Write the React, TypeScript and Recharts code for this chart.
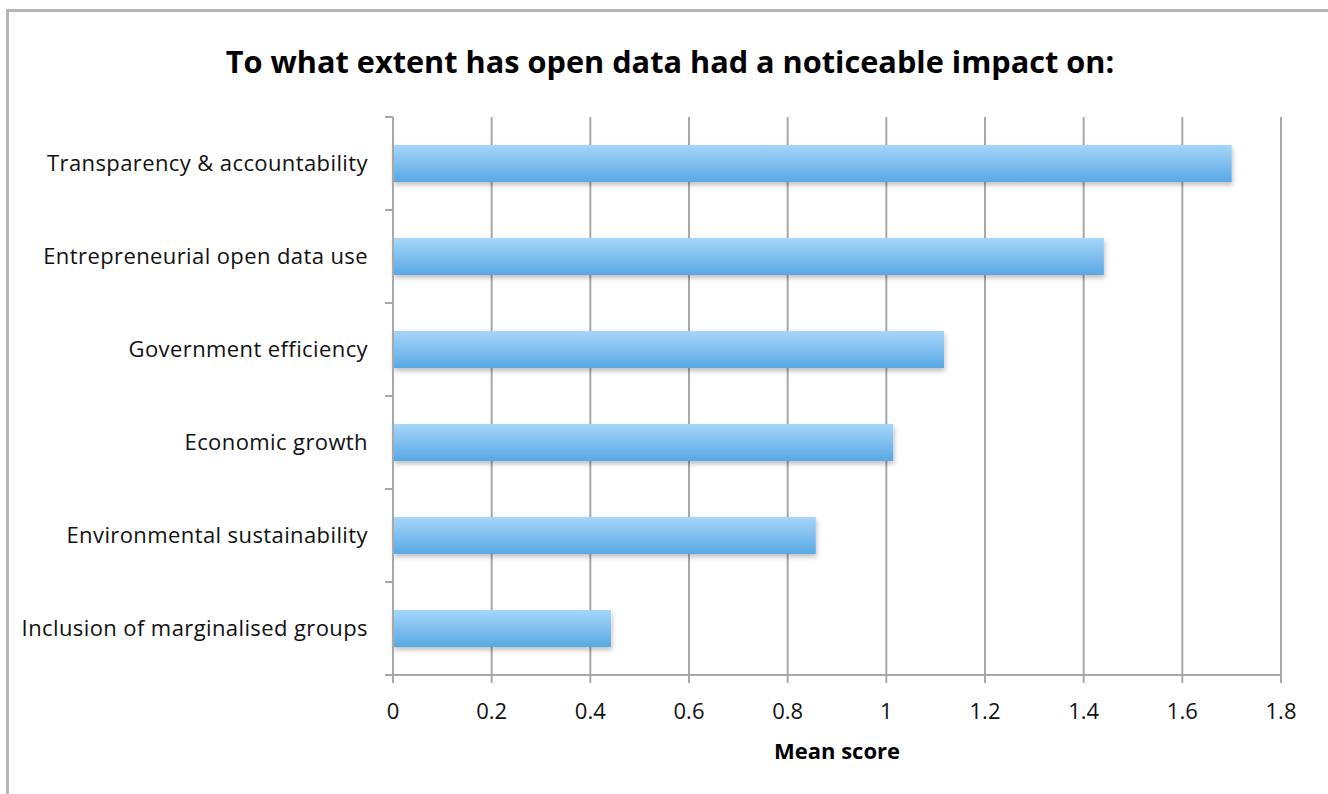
import React from "react";
import { BarChart, Bar, XAxis, YAxis, CartesianGrid } from "recharts";

const CATEGORIES = [
  "Transparency & accountability",
  "Entrepreneurial open data use",
  "Government efficiency ",
  "Economic growth",
  "Environmental sustainability",
  "Inclusion of marginalised groups",
];
const MEAN_SCORES = [1.7, 1.441, 1.117, 1.014, 0.857, 0.442];
const X_TICKS = [0, 0.2, 0.4, 0.6, 0.8, 1, 1.2, 1.4, 1.6, 1.8];

const FONT = "'Open Sans', Lato, sans-serif";
const GRID = "#a8a8a8";
const TICK_MARGIN = 17;
const TICK_SIZE = 8;

// category label + tick marks at the band edges (Excel style)
function CategoryTick(props: any) {
  const { x, y, payload, index, visibleTicksCount } = props;
  const half = payload.offset ?? 0;
  const x1 = x + TICK_MARGIN;
  const x2 = x + TICK_MARGIN + TICK_SIZE;
  return (
    <g>
      <line x1={x1} x2={x2} y1={y - half} y2={y - half} stroke={GRID} strokeWidth={2} />
      {index === visibleTicksCount - 1 && (
        <line x1={x1} x2={x2} y1={y + half} y2={y + half} stroke={GRID} strokeWidth={2} />
      )}
      <text x={x} y={y} dy="0.355em" textAnchor="end" fill="#111" fontSize={22} fontFamily={FONT} letterSpacing={0.4}>
        {payload.value}
      </text>
    </g>
  );
}

export default function App() {
  const data = CATEGORIES.map((name, i) => ({ name, score: MEAN_SCORES[i] }));
  return (
    <div style={{ position: "absolute", left: 0, top: 0, width: 1328, height: 794, background: "#fff", fontFamily: FONT }}>
      <div style={{ position: "absolute", left: 6, top: 9, width: 1322, height: 785, borderTop: "3px solid #b5b5b5", borderLeft: "3px solid #b5b5b5" }} />
      <div style={{ position: "absolute", left: 0, width: 1340, top: 40, textAlign: "center", fontSize: 30.7, fontWeight: 700, color: "#000" }}>
        To what extent has open data had a noticeable impact on:
      </div>
      <BarChart
        width={1328}
        height={794}
        layout="vertical"
        data={data}
        margin={{ top: 117, right: 47, bottom: 0, left: 0 }}
        barCategoryGap="30%"
        style={{ position: "absolute", left: 0, top: 0 }}
      >
        <defs>
          <linearGradient id="barGrad" x1="0" y1="0" x2="0" y2="1">
            <stop offset="0%" stopColor="#a6d6fa" />
            <stop offset="100%" stopColor="#5aa8e4" />
          </linearGradient>
          <filter id="barShadow" x="-5%" y="-20%" width="110%" height="160%">
            <feDropShadow dx="1" dy="3" stdDeviation="2.5" floodColor="#000" floodOpacity="0.25" />
          </filter>
        </defs>
        <CartesianGrid horizontal={false} stroke={GRID} strokeWidth={2} />
        <XAxis
          type="number"
          domain={[0, 1.8]}
          ticks={X_TICKS}
          interval={0}
          stroke={GRID}
          strokeWidth={2}
          tickSize={8}
          tickMargin={20}
          tick={{ fill: "#111", fontSize: 22, fontFamily: FONT }}
          label={{ value: "Mean score", position: "insideBottom", offset: 35, fill: "#000", fontSize: 22, fontWeight: 700, fontFamily: FONT }}
          height={119}
        />
        <YAxis
          dataKey="name"
          type="category"
          width={393}
          stroke={GRID}
          strokeWidth={2}
          tickLine={false}
          tickSize={TICK_SIZE}
          tickMargin={TICK_MARGIN}
          interval={0}
          tick={<CategoryTick />}
        />
        <Bar dataKey="score" fill="url(#barGrad)" filter="url(#barShadow)" isAnimationActive={false} />
      </BarChart>
    </div>
  );
}
